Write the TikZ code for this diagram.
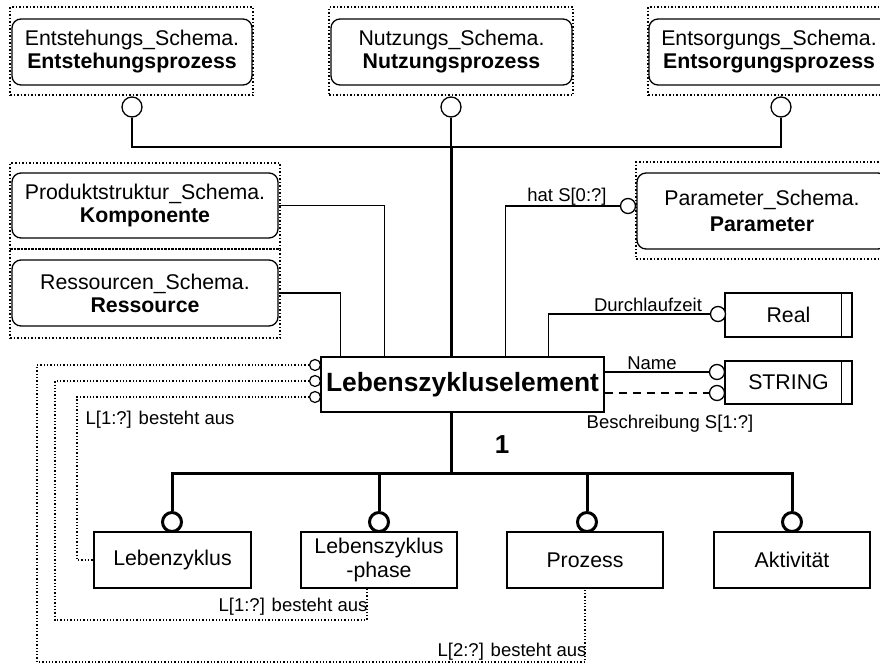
\documentclass[tikz,border=0pt]{standalone}
\usepackage{fontspec}
\setmainfont{Liberation Sans}
\newcommand{\txtnormal}{\fontsize{21.3}{23}\selectfont}
\newcommand{\txtsmall}{\fontsize{18.5}{21}\selectfont}
\newcommand{\txtbig}{\fontsize{26.4}{30}\selectfont}
\begin{document}
\begin{tikzpicture}[x=1pt,y=-1pt,
  schemabox/.style={draw, line width=1.3pt, rounded corners=9pt, align=center, font=\txtnormal, inner sep=0pt,
    execute at begin node={\rule{0pt}{21pt}}},
  schemaframe/.style={draw, dotted, line width=1.5pt, inner sep=0pt},
  entitybox/.style={draw, line width=1.3pt, align=center, font=\txtnormal, inner sep=0pt},
  ring/.style={circle, draw, line width=1.3pt, fill=white, minimum size=15pt, inner sep=0pt},
  bigring/.style={circle, draw, line width=3pt, fill=white, minimum size=19pt, inner sep=0pt},
  tinyring/.style={circle, draw, line width=1.2pt, fill=white, minimum size=11pt, inner sep=0pt},
  rel/.style={line width=1.3pt},
  heavy/.style={line width=3pt},
  refline/.style={dotted, line width=1.3pt},
  lbl/.style={font=\txtsmall, inner sep=0pt},
]
\clip (0,0) rectangle (880,664);

% --- external schema entities (top row) ---
\node[schemaframe, minimum width=243pt, minimum height=88pt] (entstF) at (131.5,51) {};
\node[schemabox, minimum width=240pt, minimum height=66pt] (entst) at (132,52)
  {Entstehungs\_Schema.\\\textbf{Entstehungsprozess}};
\node[schemaframe, minimum width=244pt, minimum height=88pt] (nutzF) at (451,51) {};
\node[schemabox, minimum width=241pt, minimum height=66pt] (nutz) at (451.5,52)
  {Nutzungs\_Schema.\\\textbf{Nutzungsprozess}};
\node[schemaframe, minimum width=264pt, minimum height=88pt] (entsF) at (780,51) {};
\node[schemabox, minimum width=240pt, minimum height=66pt] (ents) at (769,52)
  {Entsorgungs\_Schema.\\\textbf{Entsorgungsprozess}};

% --- external schema entities (left and right) ---
\node[schemaframe, minimum width=270pt, minimum height=86pt] (prodF) at (145,206) {};
\node[schemabox, minimum width=266pt, minimum height=65pt] (prod) at (145,205.5)
  {Produktstruktur\_Schema.\\\textbf{Komponente}};
\node[schemaframe, minimum width=270pt, minimum height=89pt] (ressF) at (145,293.5) {};
\node[schemabox, minimum width=266pt, minimum height=66pt] (ress) at (145,293)
  {Ressourcen\_Schema.\\\textbf{Ressource}};
\node[schemaframe, minimum width=260pt, minimum height=97pt] (paramF) at (766,210.5) {};
\node[schemabox, minimum width=250pt, minimum height=76pt] (param) at (762,211)
  {Parameter\_Schema.\\[3pt]\textbf{Parameter}};

% --- central entity ---
\node[entitybox, minimum width=283pt, minimum height=55pt, font=\txtbig\bfseries] (lze) at (462.5,384.5)
  {Lebenszykluselement};

% --- simple types ---
\node[entitybox, minimum width=127pt, minimum height=44pt] (real) at (788.5,315) {Real};
\draw[rel] ([xshift=-11pt]real.north east) -- ([xshift=-11pt]real.south east);
\node[entitybox, minimum width=127pt, minimum height=43pt] (string) at (788.5,382.5) {STRING};
\draw[rel] ([xshift=-11pt]string.north east) -- ([xshift=-11pt]string.south east);

% --- subtypes ---
\node[entitybox, minimum width=157pt, minimum height=56pt] (lz) at (172.5,560) {Lebenzyklus};
\node[entitybox, minimum width=156pt, minimum height=56pt] (lzp) at (379,560) {Lebenszyklus\\[1pt]-phase};
\node[entitybox, minimum width=156pt, minimum height=56pt] (proz) at (585,560) {Prozess};
\node[entitybox, minimum width=156pt, minimum height=56pt] (akt) at (792,560) {Aktivität};

% --- top attribute rings and junction ---
\node[ring, minimum size=20pt] (r1) at (132,107) {};
\node[ring, minimum size=20pt] (r2) at (451,107) {};
\node[ring, minimum size=20pt] (r3) at (781,107) {};
\coordinate (jtop) at (451,147);
\draw[rel] (r1.south) -- (r1.south |- jtop) -- (r3.south |- jtop) -- (r3.south);
\draw[rel] (r2.south) -- (jtop);
\draw[heavy] (jtop) -- (jtop |- lze.north);

% --- component / resource links ---
\draw[rel] (prod.east) -| ([xshift=64pt]lze.north west);
\draw[rel] (ress.east) -| ([xshift=20pt]lze.north west);

% --- parameter and attribute links ---
\node[ring] (pring) at (628,206) {};
\draw[rel] ([xshift=185pt]lze.north west) |- (pring.west);
\node[lbl] at (567,197) {hat S[0:?]};

\node[ring] (dring) at (718,314) {};
\draw[rel] ([xshift=228pt]lze.north west) |- (dring.west);
\node[lbl] at (648,305) {Durchlaufzeit};

\node[ring] (nring) at (717,372) {};
\draw[rel] (lze.east |- nring) -- (nring.west);
\node[lbl] at (652,363) {Name};

\node[ring] (bring) at (717,393) {};
\draw[rel, dash pattern=on 8pt off 6pt] (lze.east |- bring) -- (bring.west);
\node[lbl] at (670,424) {Beschreibung S[1:?]};

% --- aggregation links on the left ---
\node[tinyring] (t1) at (315,365) {};
\node[tinyring] (t2) at (315,381) {};
\node[tinyring] (t3) at (315,397) {};
\coordinate (w1) at (37,662);
\coordinate (w2) at (55,620);
\coordinate (w3) at (77,397);
\draw[refline] (t1.west) -| (w1) -| (proz.south);
\draw[refline] (t2.west) -| (w2) -| ([xshift=-12pt]lzp.south);
\draw[refline] (t3.west) -- (w3) |- (lz.west);
\node[lbl] at (160,420) {L[1:?] besteht aus};
\node[lbl] at (293,607) {L[1:?] besteht aus};
\node[lbl] at (512,652) {L[2:?] besteht aus};

% --- subtype tree ---
\node[bigring] (b1) at (172,522) {};
\node[bigring] (b2) at (379,522) {};
\node[bigring] (b3) at (587,522) {};
\node[bigring] (b4) at (792,522) {};
\coordinate (jbot) at (451,473);
\draw[heavy] (lze.south -| jtop) -- (jbot);
\draw[heavy] (b1.north) |- (b4.north |- jbot) -- (b4.north);
\draw[heavy] (b2.north |- jbot) -- (b2.north);
\draw[heavy] (b3.north |- jbot) -- (b3.north);
\node[font=\fontsize{26}{28}\selectfont\bfseries, inner sep=0pt] at (502,445) {1};
\end{tikzpicture}
\end{document}
